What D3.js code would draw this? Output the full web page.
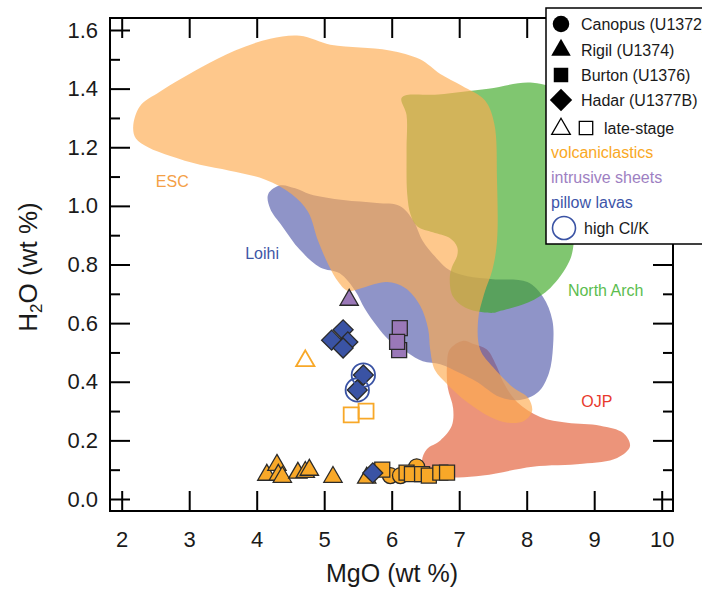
<!DOCTYPE html>
<html><head><meta charset="utf-8">
<script src="https://cdn.jsdelivr.net/npm/d3@7"></script>
<style>
body{margin:0;background:#fff}
svg{display:block}
text{font-family:"Liberation Sans",Arial,Helvetica,sans-serif}
</style>
</head><body>
<svg id="c" width="702" height="589"></svg>
<script>
// ---------- axis ticks ----------
const xTicks = [2,3,4,5,6,7,8,9,10];
const yTicks = [0,0.2,0.4,0.6,0.8,1.0,1.2,1.4,1.6];
const yMinorTicks = [0.1,0.3,0.5,0.7,0.9,1.1,1.3,1.5];

// ---------- compositional fields (MgO, H2O) ----------
const ojpField = [[7.06,0.54],[6.86,0.51],[6.82,0.46],[6.83,0.38],[6.91,0.31],[6.89,0.25],[6.72,0.20],[6.52,0.17],[6.45,0.13],[6.52,0.10],[6.86,0.075],[7.35,0.08],[8.09,0.11],[8.83,0.12],[9.34,0.14],[9.53,0.18],[9.43,0.225],[9.09,0.25],[8.60,0.26],[8.20,0.28],[7.86,0.33],[7.65,0.40],[7.56,0.45],[7.41,0.51],[7.20,0.53]];
const loihiField = [[4.17,1.04],[4.35,1.07],[4.57,1.06],[4.79,1.04],[5.28,1.02],[5.78,1.01],[6.12,1.00],[6.32,0.95],[6.46,0.88],[6.67,0.82],[6.86,0.78],[7.12,0.76],[7.50,0.75],[8.01,0.74],[8.24,0.69],[8.38,0.61],[8.39,0.52],[8.33,0.43],[8.17,0.365],[7.90,0.338],[7.60,0.348],[7.26,0.40],[7.01,0.43],[6.72,0.46],[6.46,0.47],[6.23,0.50],[5.97,0.54],[5.78,0.59],[5.60,0.65],[5.46,0.71],[5.23,0.77],[4.94,0.79],[4.64,0.85],[4.38,0.93],[4.20,0.99]];
const northArchField = [[6.15,1.37],[6.69,1.38],[7.43,1.40],[8.09,1.42],[8.54,1.38],[8.70,1.23],[8.70,0.88],[8.63,0.81],[8.35,0.72],[8.02,0.67],[7.58,0.64],[7.50,0.635],[7.12,0.65],[6.91,0.69],[6.86,0.75],[6.89,0.79],[6.97,0.83],[6.97,0.86],[6.86,0.89],[6.61,0.91],[6.38,0.93],[6.28,0.97],[6.23,1.04],[6.22,1.19],[6.22,1.31]];
const escField = [[2.17,1.27],[2.27,1.34],[2.57,1.39],[3.16,1.47],[3.68,1.53],[4.20,1.57],[4.64,1.58],[5.09,1.55],[5.53,1.54],[5.97,1.53],[6.42,1.50],[6.72,1.45],[7.04,1.41],[7.38,1.36],[7.52,1.28],[7.56,1.09],[7.56,0.88],[7.49,0.78],[7.37,0.70],[7.28,0.61],[7.31,0.51],[7.50,0.45],[7.80,0.38],[8.02,0.345],[8.08,0.30],[7.96,0.266],[7.72,0.26],[7.46,0.28],[7.12,0.33],[6.83,0.39],[6.64,0.44],[6.57,0.51],[6.54,0.58],[6.42,0.66],[6.20,0.72],[5.93,0.74],[5.56,0.72],[5.35,0.71],[5.21,0.74],[5.06,0.80],[4.91,0.88],[4.76,0.98],[4.52,1.04],[4.12,1.09],[3.60,1.12],[3.16,1.14],[2.72,1.17],[2.39,1.20],[2.21,1.23]];
const fieldNames = ["OJP","Loihi","North Arch","ESC"];
const fieldLabelAt = [[9.04,0.334],[4.08,0.839],[9.17,0.713],[2.75,1.085]];

// ---------- samples (MgO, H2O) ----------
const rigilVolc   = [[4.15,0.082],[4.30,0.116],[4.32,0.082],[4.38,0.075],[4.61,0.089],[4.72,0.092],[4.78,0.099],[5.13,0.075],[5.63,0.072]];
const canopusVolc = [[5.98,0.08],[6.13,0.08],[6.37,0.11]];
const burtonVolc  = [[5.86,0.10],[6.22,0.09],[6.30,0.085],[6.45,0.085],[6.55,0.08],[6.72,0.09],[6.82,0.09]];
const rigilIntr   = [[5.37,0.679]];
const burtonIntr  = [[6.12,0.583],[6.11,0.508],[6.08,0.536]];
const hadarPillow = [[5.28,0.577],[5.35,0.536],[5.11,0.542],[5.28,0.515],[5.58,0.423],[5.49,0.372],[5.72,0.089]];
const highClK     = [[5.58,0.423],[5.49,0.372]];
const rigilLate   = [[4.72,0.471]];
const burtonLate  = [[5.40,0.287],[5.62,0.30]];

const legendSites = ["Canopus (U1372)","Rigil (U1374)","Burton (U1376)","Hadar (U1377B)"];
const legendTypes = ["volcaniclastics","intrusive sheets","pillow lavas"];

// ---------- drawing ----------
const svg = d3.select("#c");
const x = d3.scaleLinear().domain([2,10]).range([121.7,661.7]);
const y = d3.scaleLinear().domain([0,1.6]).range([499,30]);
const L=110, T=18, R=673, B=511;

const fieldFill = {"OJP":"#E25A32","Loihi":"#535AAA","North Arch":"#3CA723","ESC":"#FDAA4E"};
const fieldText = {"OJP":"#E8392D","Loihi":"#3E56A6","North Arch":"#5BBD4E","ESC":"#F4A046"};
const fields = [ojpField, loihiField, northArchField, escField];

const line = d3.line().x(d=>x(d[0])).y(d=>y(d[1])).curve(d3.curveCatmullRomClosed.alpha(0.5));
const gF = svg.append("g");
fields.forEach((f,i)=>{
  gF.append("path").attr("d", line(f)).attr("fill", fieldFill[fieldNames[i]]).attr("fill-opacity",0.65);
});
fieldNames.forEach((n,i)=>{
  svg.append("text").attr("x",x(fieldLabelAt[i][0])).attr("y",y(fieldLabelAt[i][1])).attr("dy","0.35em")
    .attr("text-anchor","middle").attr("font-size",16).attr("fill",fieldText[n]).text(n);
});

// markers
const ORANGE="#F8A828", PURPLE="#9A78B8", BLUE="#3A53A4", EDGE="#2a2a2a";
const sym = {
  circle: d3.symbol(d3.symbolCircle, 200),
  tri: d3.symbol(d3.symbolTriangle, 145),
  square: d3.symbol(d3.symbolSquare, 225),
  diamond: d3.symbol(d3.symbolSquare, 200)
};
function plot(data, kind, fill, stroke, sw){
  svg.append("g").selectAll("path").data(data).join("path")
    .attr("d", sym[kind]())
    .attr("transform", d=>`translate(${x(d[0])},${y(d[1])})` + (kind==="diamond"?" rotate(45)":""))
    .attr("fill", fill).attr("stroke", stroke).attr("stroke-width", sw);
}
plot(rigilVolc,"tri",ORANGE,EDGE,1.3);
plot(canopusVolc,"circle",ORANGE,EDGE,1.3);
plot(burtonVolc,"square",ORANGE,EDGE,1.3);
plot(hadarPillow.slice(6),"diamond",BLUE,EDGE,1.3);
plot(rigilIntr,"tri",PURPLE,EDGE,1.3);
plot(burtonIntr,"square",PURPLE,EDGE,1.3);
plot(hadarPillow.slice(0,6),"diamond",BLUE,EDGE,1.3);
plot(rigilLate,"tri","none",ORANGE,1.8);
plot(burtonLate,"square","none",ORANGE,1.8);
svg.append("g").selectAll("circle").data(highClK).join("circle")
  .attr("cx",d=>x(d[0])).attr("cy",d=>y(d[1])).attr("r",11.7)
  .attr("fill","none").attr("stroke",BLUE).attr("stroke-width",1.8);

// axes
function styleAxis(g){ g.select(".domain").remove(); g.selectAll("line").attr("stroke","#000").attr("stroke-width",2);
  g.selectAll("text").attr("fill","#1a1a1a").attr("font-size",22).attr("font-family","Liberation Sans, Arial, sans-serif"); }
svg.append("g").attr("transform",`translate(0,${B})`).call(d3.axisBottom(x).tickValues(xTicks).tickSize(-20).tickPadding(20).tickFormat(d3.format("d"))).call(styleAxis);
svg.append("g").attr("transform",`translate(0,${T})`).call(d3.axisTop(x).tickValues(xTicks).tickSize(-20).tickFormat("")).call(styleAxis);
svg.append("g").attr("transform",`translate(${L},0)`).call(d3.axisLeft(y).tickValues(yTicks).tickSize(-20).tickPadding(12).tickFormat(d3.format(".1f"))).call(styleAxis);
svg.append("g").attr("transform",`translate(${L},0)`).call(d3.axisLeft(y).tickValues(yMinorTicks).tickSize(-10).tickFormat("")).call(styleAxis);
svg.append("g").attr("transform",`translate(${R},0)`).call(d3.axisRight(y).tickValues(yTicks).tickSize(-20).tickFormat("")).call(styleAxis);
svg.append("g").attr("transform",`translate(${R},0)`).call(d3.axisRight(y).tickValues(yMinorTicks).tickSize(-10).tickFormat("")).call(styleAxis);
svg.append("rect").attr("x",L).attr("y",T).attr("width",R-L).attr("height",B-T)
  .attr("fill","none").attr("stroke","#000").attr("stroke-width",2);

// titles
svg.append("text").attr("x",392).attr("y",582).attr("text-anchor","middle").attr("font-size",25).attr("fill","#1a1a1a").text("MgO (wt %)");
const yt = svg.append("text").attr("transform","translate(37,267) rotate(-90)").attr("text-anchor","middle").attr("font-size",26).attr("fill","#1a1a1a");
yt.append("tspan").text("H");
yt.append("tspan").attr("font-size",17).attr("dy",5).text("2");
yt.append("tspan").attr("dy",-5).text("O (wt %)");

// legend
const lg = svg.append("g");
lg.append("rect").attr("x",546).attr("y",8).attr("width",180).attr("height",236).attr("fill","#fff").attr("stroke","#000").attr("stroke-width",1.5);
const legSyms = [d3.symbol(d3.symbolCircle,215), d3.symbol(d3.symbolTriangle,165), d3.symbol(d3.symbolSquare,210), d3.symbol(d3.symbolSquare,250)];
const rowY = [24,50,75,100];
legendSites.forEach((s,i)=>{
  lg.append("path").attr("d",legSyms[i]()).attr("transform",`translate(561,${rowY[i]})`+(i===3?" rotate(45)":"")).attr("fill","#000");
  lg.append("text").attr("x",581).attr("y",rowY[i]).attr("dy","0.35em").attr("font-size",16).attr("fill","#1a1a1a").text(s);
});
lg.append("path").attr("d",d3.symbol(d3.symbolTriangle,150)()).attr("transform","translate(561,129)").attr("fill","none").attr("stroke","#000").attr("stroke-width",1.3);
lg.append("path").attr("d",d3.symbol(d3.symbolSquare,180)()).attr("transform","translate(586,128)").attr("fill","none").attr("stroke","#000").attr("stroke-width",1.3);
lg.append("text").attr("x",604).attr("y",128).attr("dy","0.35em").attr("font-size",16).attr("fill","#1a1a1a").text("late-stage");
const typeCol = ["#F9A825","#9D80C2","#3D55A8"];
legendTypes.forEach((t,i)=>{
  lg.append("text").attr("x",551).attr("y",152+i*25).attr("dy","0.35em").attr("font-size",16).attr("fill",typeCol[i]).text(t);
});
lg.append("circle").attr("cx",564).attr("cy",228).attr("r",11.5).attr("fill","none").attr("stroke",BLUE).attr("stroke-width",1.6);
lg.append("text").attr("x",584).attr("y",228).attr("dy","0.35em").attr("font-size",16).attr("fill","#1a1a1a").text("high Cl/K");
</script>
</body></html>
